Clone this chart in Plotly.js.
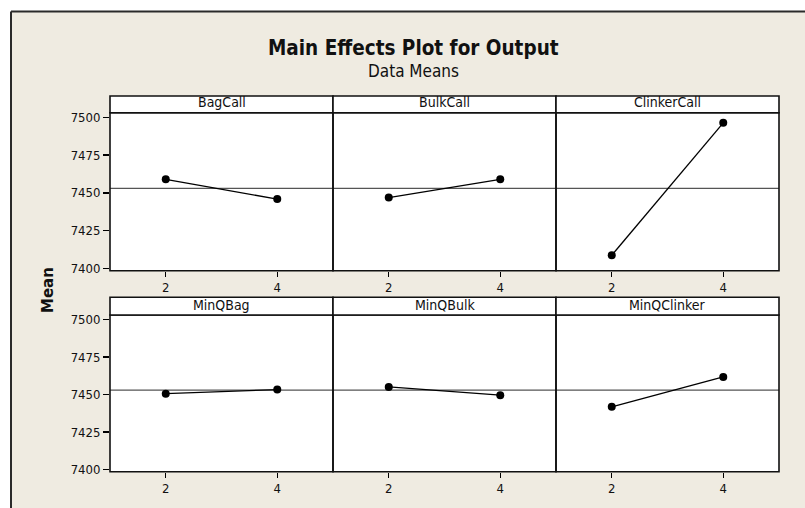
<!DOCTYPE html>
<html>
<head>
<meta charset="utf-8">
<script src="https://cdn.plot.ly/plotly-3.0.1.min.js"></script>
<style>html,body{margin:0;padding:0;background:#fff;}#chart{width:805px;height:508px;}</style>
</head>
<body>
<div id="chart"></div>
<script>
// ---- data ----
const factors = ["BagCall", "BulkCall", "ClinkerCall", "MinQBag", "MinQBulk", "MinQClinker"];
const levels = [2, 4];
const bagCallMeans = [7459.0, 7445.9];
const bulkCallMeans = [7446.9, 7459.0];
const clinkerCallMeans = [7408.8, 7496.3];
const minQBagMeans = [7450.6, 7453.3];
const minQBulkMeans = [7455.1, 7449.6];
const minQClinkerMeans = [7441.8, 7461.7];
const grandMean = [7453.0];
const yTicks = [7400, 7425, 7450, 7475, 7500];
const seriesMeans = [bagCallMeans, bulkCallMeans, clinkerCallMeans, minQBagMeans, minQBulkMeans, minQClinkerMeans];

// ---- layout geometry (pixels) ----
const W = 805, H = 508;
const colX = [[110, 333], [333, 556], [556, 779]];
const rows = [
  {stripTop: 96, plotTop: 112.7, plotBot: 270.7},
  {stripTop: 297.3, plotTop: 315, plotBot: 471.7}
];
const fx = p => p / W;
const fy = p => 1 - p / H;
const FONT = "DejaVu Sans Condensed, DejaVu Sans, sans-serif";
const BEIGE = "#efebe1";

const traces = [];
const layout = {
  width: W, height: H,
  margin: {l: 0, r: 0, t: 0, b: 0},
  paper_bgcolor: BEIGE,
  plot_bgcolor: "#ffffff",
  showlegend: false,
  font: {family: FONT, size: 12, color: "#000"},
  shapes: [],
  annotations: []
};

// white outside of the outer frame, then the frame lines
layout.shapes.push({type: "rect", xref: "paper", yref: "paper", x0: -0.01, x1: 1.01, y0: fy(11.5), y1: 1.01,
  fillcolor: "#ffffff", line: {width: 0}, layer: "below"});
layout.shapes.push({type: "rect", xref: "paper", yref: "paper", x0: -0.01, x1: fx(11), y0: -0.01, y1: 1.01,
  fillcolor: "#ffffff", line: {width: 0}, layer: "below"});
layout.shapes.push({type: "line", xref: "paper", yref: "paper", x0: fx(11), x1: 1.01, y0: fy(11.5), y1: fy(11.5),
  line: {color: "#2a2a2a", width: 2}});
layout.shapes.push({type: "line", xref: "paper", yref: "paper", x0: fx(11), x1: fx(11), y0: -0.01, y1: fy(11.5),
  line: {color: "#2a2a2a", width: 2}});

for (let i = 0; i < 6; i++) {
  const r = Math.floor(i / 3), c = i % 3;
  const n = i + 1;
  const xa = "xaxis" + (n === 1 ? "" : n), ya = "yaxis" + (n === 1 ? "" : n);
  const xr = "x" + (n === 1 ? "" : n), yr = "y" + (n === 1 ? "" : n);
  const row = rows[r];
  layout[xa] = {
    domain: [fx(colX[c][0]), fx(colX[c][1])],
    anchor: yr, range: [1, 5], tickvals: levels, ticktext: levels.map(String),
    ticks: "outside", ticklen: 5, tickwidth: 1.3, tickcolor: "#000",
    showline: false, showgrid: false, zeroline: false, fixedrange: true,
    tickfont: {family: FONT, size: 13, color: "#111"}
  };
  layout[ya] = {
    domain: [fy(row.plotBot), fy(row.plotTop)],
    anchor: xr, range: [7398.6, 7503.0], tickvals: yTicks,
    ticks: c === 0 ? "outside" : "", ticklen: 6, tickwidth: 1.3, tickcolor: "#000",
    showticklabels: c === 0,
    showline: false, showgrid: false, zeroline: false, fixedrange: true,
    tickfont: {family: FONT, size: 13, color: "#111"}
  };
  // mean reference line
  layout.shapes.push({
    type: "line", xref: xr + " domain", yref: yr,
    x0: 0, x1: 1, y0: grandMean[0], y1: grandMean[0],
    line: {color: "#555555", width: 1.2}, layer: "below"
  });
  // panel border
  layout.shapes.push({
    type: "rect", xref: "paper", yref: "paper",
    x0: fx(colX[c][0]), x1: fx(colX[c][1]), y0: fy(row.plotBot), y1: fy(row.plotTop),
    fillcolor: "rgba(0,0,0,0)", line: {color: "#111", width: 1.6}
  });
  // strip
  layout.shapes.push({
    type: "rect", xref: "paper", yref: "paper",
    x0: fx(colX[c][0]), x1: fx(colX[c][1]), y0: fy(row.plotTop), y1: fy(row.stripTop),
    fillcolor: "#ffffff", line: {color: "#111", width: 1.6}
  });
  layout.annotations.push({
    text: factors[i], xref: "paper", yref: "paper",
    x: fx((colX[c][0] + colX[c][1]) / 2), y: fy(row.plotTop - 0.5),
    xanchor: "center", yanchor: "bottom", showarrow: false,
    font: {family: FONT, size: 14, color: "#111"}
  });
  traces.push({
    type: "scatter", mode: "lines+markers",
    x: levels, y: seriesMeans[i], xaxis: xr, yaxis: yr,
    line: {color: "#000", width: 1.3},
    marker: {color: "#000", size: 8},
    hoverinfo: "skip", cliponaxis: false
  });
}

// titles
layout.annotations.push({
  text: "<b>Main Effects Plot for Output</b>", xref: "paper", yref: "paper",
  x: fx(414), y: fy(48), xanchor: "center", yanchor: "middle", showarrow: false,
  font: {family: FONT, size: 20.5, color: "#111"}
});
layout.annotations.push({
  text: "Data Means", xref: "paper", yref: "paper",
  x: fx(414), y: fy(71.5), xanchor: "center", yanchor: "middle", showarrow: false,
  font: {family: FONT, size: 17, color: "#111"}
});
layout.annotations.push({
  text: "<b>Mean</b>", xref: "paper", yref: "paper",
  x: fx(48), y: fy(290), xanchor: "center", yanchor: "middle", showarrow: false,
  textangle: -90, font: {family: "DejaVu Sans, sans-serif", size: 15, color: "#111"}
});

Plotly.newPlot("chart", traces, layout, {staticPlot: true, displayModeBar: false});
</script>
</body>
</html>
